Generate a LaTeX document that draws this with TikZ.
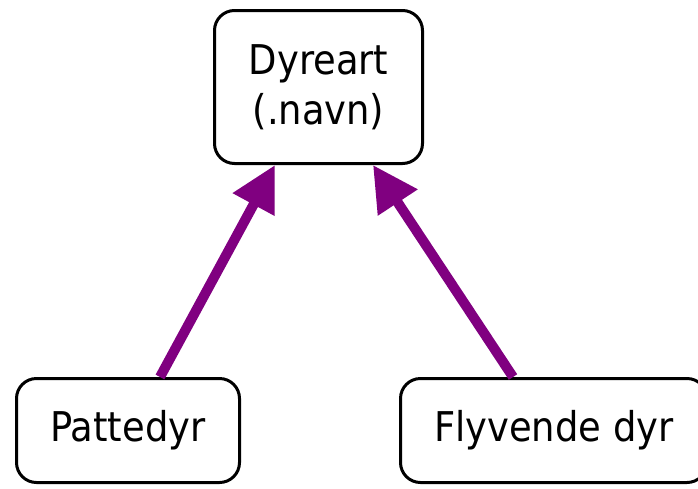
\documentclass[tikz,border=0pt]{standalone}
\usepackage{fontspec}
\setmainfont{DejaVu Sans Condensed}
\usetikzlibrary{arrows.meta}
\definecolor{arrowpurple}{HTML}{800080}
\begin{document}
\begin{tikzpicture}[x=1pt,y=-1pt,
  classbox/.style={draw=black, line width=3pt, rounded corners=20pt, fill=white,
    inner sep=0pt, align=center, font=\fontsize{41}{50}\selectfont},
  inherit/.style={draw=arrowpurple, line width=10pt,
    -{Triangle[length=45pt,width=45pt]}, arrowpurple}]
  \useasboundingbox (0,0) rectangle (698,488);
  \node[classbox, minimum width=208pt, minimum height=153pt] (dyr) at (318.5,87) {Dyreart\\(.navn)};
  \node[classbox, minimum width=223pt, minimum height=104pt] (patte) at (128,430.5) {Pattedyr};
  \node[classbox, minimum width=306.5pt, minimum height=104pt] (flyv) at (553.75,430.5) {Flyvende dyr};
  \draw[inherit] ([xshift=32pt]patte.north) -- ([xshift=-43.5pt]dyr.south);
  \draw[inherit] ([xshift=-40.75pt]flyv.north) -- ([xshift=54.5pt]dyr.south);
\end{tikzpicture}
\end{document}
